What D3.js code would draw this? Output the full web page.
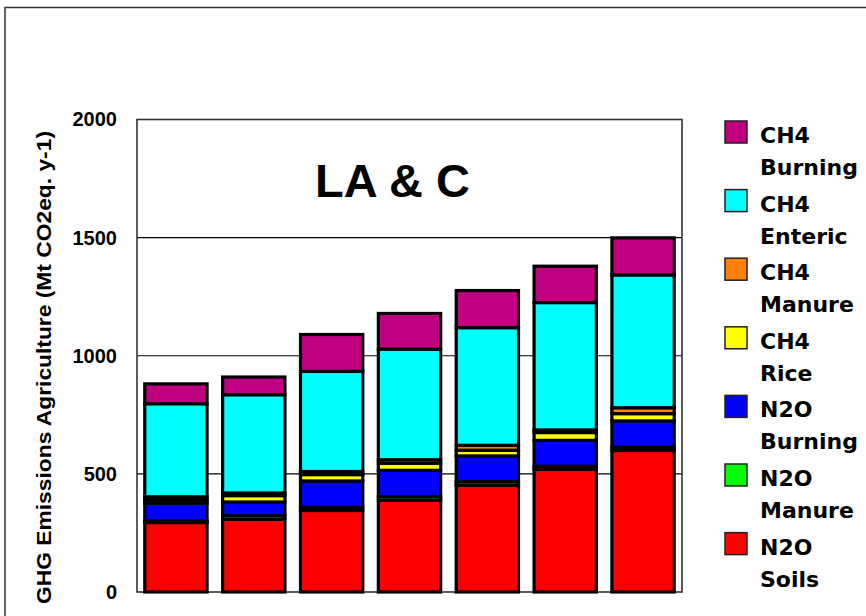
<!DOCTYPE html>
<html>
<head>
<meta charset="utf-8">
<script src="https://cdn.jsdelivr.net/npm/d3@7/dist/d3.min.js"></script>
<style>
  html, body { margin: 0; padding: 0; background: #fff; }
  svg { display: block; }
</style>
</head>
<body>
<svg id="chart" width="866" height="616"></svg>
<script>
// Stacked agricultural GHG emissions, Latin America & Caribbean (Mt CO2eq per year)
const categories = ["P1", "P2", "P3", "P4", "P5", "P6", "P7"];

// Series listed from the bottom of the stack upwards
const n2oSoils   = [294, 308, 345, 389, 452, 519, 599];
const n2oManure  = [  7,  15,  14,  15,  15,  13,  14];
const n2oBurning = [ 74,  58, 111, 111, 109, 110, 111];
const ch4Rice    = [ 14,  27,  27,  30,  24,  33,  31];
const ch4Manure  = [ 14,  11,  13,  15,  21,  11,  25];
const ch4Enteric = [394, 416, 424, 468, 498, 539, 562];
const ch4Burning = [ 84,  75, 156, 151, 157, 154, 157];

const seriesNames = ["N2O Soils", "N2O Manure", "N2O Burning", "CH4 Rice",
                     "CH4 Manure", "CH4 Enteric", "CH4 Burning"];
const seriesValues = [n2oSoils, n2oManure, n2oBurning, ch4Rice, ch4Manure, ch4Enteric, ch4Burning];
const seriesColors = ["#FF0000", "#00FF00", "#0000FF", "#FFFF00", "#FF8000", "#00FFFF", "#C00080"];

const yTicks = [0, 500, 1000, 1500, 2000];
const titleText = "LA & C";
const yAxisTitle = "GHG Emissions Agriculture (Mt CO2eq. y-1)";

const svg = d3.select("#chart");

// outer frame of the chart object
svg.append("rect")
  .attr("x", 5).attr("y", 7.5).attr("width", 900).attr("height", 700)
  .attr("fill", "#fff").attr("stroke", "#333").attr("stroke-width", 1.5);

const plot = { left: 137, right: 682, top: 119.5, bottom: 592 };

const x = d3.scaleBand()
  .domain(categories)
  .range([plot.left, plot.right])
  .paddingInner(0.2)
  .paddingOuter(0.1);

const y = d3.scaleLinear()
  .domain([0, 2000])
  .range([plot.bottom, plot.top]);

// rows for the stack generator
const table = categories.map((c, i) => {
  const row = { cat: c };
  seriesNames.forEach((s, j) => { row[s] = seriesValues[j][i]; });
  return row;
});
const stacked = d3.stack().keys(seriesNames)(table);

// gridlines
svg.append("g")
  .selectAll("line")
  .data(yTicks.filter(t => t > 0 && t < 2000))
  .join("line")
  .attr("x1", plot.left).attr("x2", plot.right)
  .attr("y1", d => y(d)).attr("y2", d => y(d))
  .attr("stroke", "#000").attr("stroke-width", 1.2);

// plot frame
svg.append("rect")
  .attr("x", plot.left).attr("y", plot.top)
  .attr("width", plot.right - plot.left).attr("height", plot.bottom - plot.top)
  .attr("fill", "none").attr("stroke", "#333").attr("stroke-width", 1.6);

// stacked bars
svg.append("g")
  .selectAll("g")
  .data(stacked)
  .join("g")
  .attr("fill", (d, i) => seriesColors[i])
  .selectAll("rect")
  .data(d => d)
  .join("rect")
  .attr("x", d => x(d.data.cat))
  .attr("width", x.bandwidth())
  .attr("y", d => y(d[1]))
  .attr("height", d => y(d[0]) - y(d[1]))
  .attr("stroke", "#000")
  .attr("stroke-width", 3.2);

// y axis labels
const yAxis = d3.axisLeft(y).tickValues(yTicks).tickFormat(d3.format("d")).tickSize(0).tickPadding(20);
const yg = svg.append("g").attr("transform", `translate(${plot.left},0)`).call(yAxis);
yg.select(".domain").remove();
yg.selectAll("text")
  .attr("font-family", "'Liberation Sans', Arial, sans-serif")
  .attr("font-weight", "bold")
  .attr("font-size", 20)
  .attr("fill", "#000");

// y axis title
svg.append("text")
  .attr("transform", "translate(51,604) rotate(-90)")
  .attr("font-family", "'Liberation Sans', Arial, sans-serif")
  .attr("font-weight", "bold")
  .attr("font-size", 21)
  .attr("textLength", 473)
  .attr("lengthAdjust", "spacingAndGlyphs")
  .text(yAxisTitle);

// chart title inside the plot
svg.append("text")
  .attr("x", 392.5).attr("y", 197)
  .attr("text-anchor", "middle")
  .attr("font-family", "'Liberation Sans', Arial, sans-serif")
  .attr("font-weight", "bold")
  .attr("font-size", 47)
  .text(titleText);

// legend, top entry is the top of the stack
const legendOrder = d3.range(seriesNames.length).reverse();
const lg = svg.append("g")
  .selectAll("g")
  .data(legendOrder)
  .join("g")
  .attr("transform", (d, i) => `translate(725,${121 + i * 68.6})`);

lg.append("rect")
  .attr("width", 22).attr("height", 22)
  .attr("fill", d => seriesColors[d])
  .attr("stroke", "#222").attr("stroke-width", 1.5);

const lt = lg.append("text")
  .attr("font-family", "'DejaVu Sans', sans-serif")
  .attr("font-weight", "bold")
  .attr("font-size", 22)
  .attr("fill", "#000");
lt.append("tspan").attr("x", 35).attr("y", 22).text(d => seriesNames[d].split(" ")[0]);
lt.append("tspan").attr("x", 35).attr("y", 54).text(d => seriesNames[d].split(" ")[1]);
</script>
</body>
</html>
